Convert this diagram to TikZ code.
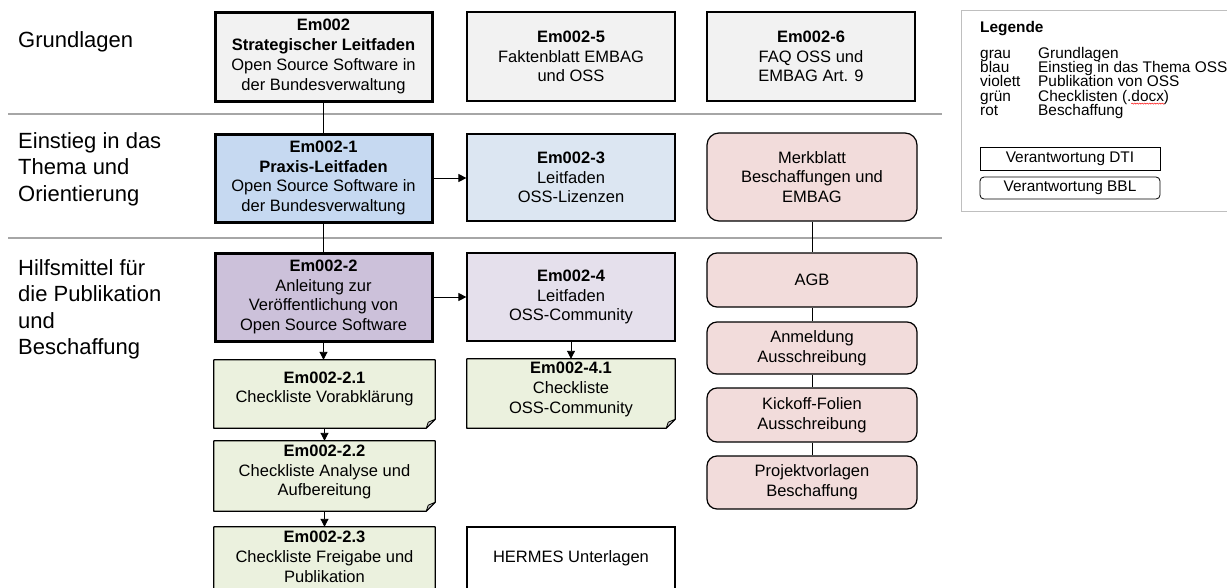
\documentclass[tikz,border=0pt]{standalone}
\usepackage{fontspec}
\setmainfont{Liberation Sans}
\usetikzlibrary{arrows.meta,decorations.pathmorphing}
\definecolor{cgrau}{HTML}{F2F2F2}
\definecolor{cblauA}{HTML}{C6D9F1}
\definecolor{cblauB}{HTML}{DCE6F2}
\definecolor{cviolA}{HTML}{CCC1DA}
\definecolor{cviolB}{HTML}{E5E0EC}
\definecolor{cgruen}{HTML}{EBF1DE}
\definecolor{crot}{HTML}{F2DCDB}
\definecolor{cline}{HTML}{A6A6A6}
\definecolor{clegend}{HTML}{BFBFBF}
\definecolor{cfold}{HTML}{BFBFBF}
\newcommand\bxf{\fontsize{16.5}{19.8}\selectfont}
\newcommand\lbf{\fontsize{22}{26.5}\selectfont}
\newcommand\lgf{\fontsize{15.4}{14.2}\selectfont}
\begin{document}
\begin{tikzpicture}[x=1pt,y=-1pt,
  box/.style={draw=black, line width=1.2pt, align=center, inner sep=0pt, font=\bxf, text=black},
  thickbox/.style={box, line width=3pt},
  redbox/.style={box, rounded corners=10pt, fill=crot, minimum width=210pt},
  notebox/.style={inner sep=0pt},
  notetext/.style={align=center, font=\bxf, inner sep=0pt},
  noteshape/.style={fill=cgruen, draw=black, line width=1.2pt, line join=round},
  foldshape/.style={fill=cfold, draw=black, line width=0.8pt, line join=round},
  conn/.style={draw=black, line width=0.9pt},
  arr/.style={conn, -{Triangle[length=8pt,width=8pt]}},
  sepline/.style={draw=cline, line width=1.5pt},
  lbl/.style={anchor=north west, align=left, font=\lbf, inner sep=0pt},
  leg/.style={anchor=base west, font=\lgf, inner sep=0pt},
]
\useasboundingbox (0,0) rectangle (1227,587);
\clip (0,0) rectangle (1227,587);

% section separators
\draw[sepline] (8,114) -- (942,114);
\draw[sepline] (8,238) -- (942,238);

% section labels
\node[lbl] (l1) at (18,31) {Grundlagen};
\node[lbl] (l2) at (18,132) {Einstieg in das\\Thema und\\Orientierung};
\node[lbl] (l3) at (18,259) {Hilfsmittel für\\die Publikation\\und\\Beschaffung};

% row 1
\node[thickbox, fill=cgrau, minimum width=217pt, minimum height=89pt] (em002) at (323.5,56.5)
  {\textbf{Em002}\\\textbf{Strategischer Leitfaden}\\Open Source Software in\\der Bundesverwaltung};
\node[box, fill=cgrau, minimum width=208pt, minimum height=89pt] (g5) at (571,56.5)
  {\textbf{Em002-5}\\Faktenblatt EMBAG\\und OSS};
\node[box, fill=cgrau, minimum width=208pt, minimum height=89pt] (g6) at (811,56.5)
  {\textbf{Em002-6}\\FAQ OSS und\\EMBAG Art. 9};

% row 2
\node[thickbox, fill=cblauA, minimum width=217pt, minimum height=88pt] (b1) at (323.5,178)
  {\textbf{Em002-1}\\\textbf{Praxis-Leitfaden}\\Open Source Software in\\der Bundesverwaltung};
\node[box, fill=cblauB, minimum width=208pt, minimum height=87pt] (b3) at (571,177.5)
  {\textbf{Em002-3}\\Leitfaden\\OSS-Lizenzen};
\node[redbox, rounded corners=12pt, minimum height=88pt] (mb) at (812,177)
  {Merkblatt\\Beschaffungen und\\EMBAG};

% row 3
\node[thickbox, fill=cviolA, minimum width=217pt, minimum height=88pt] (v2) at (323.5,297)
  {\textbf{Em002-2}\\Anleitung zur\\Veröffentlichung von\\Open Source Software};
\node[box, fill=cviolB, minimum width=208pt, minimum height=88pt] (v4) at (571,297)
  {\textbf{Em002-4}\\Leitfaden\\OSS-Community};

% procurement column
\node[redbox, minimum height=54pt] (agb) at (812,280) {AGB};
\node[redbox, minimum height=52pt] (anm) at (812,348) {Anmeldung\\Ausschreibung};
\node[redbox, minimum height=54pt] (kick) at (812,415) {Kickoff-Folien\\Ausschreibung};
\node[redbox, minimum height=53pt] (proj) at (812,482.5) {Projektvorlagen\\Beschaffung};

% checklist notes
\foreach \nm/\cx/\cy/\w/\h in {n21/324.5/394/221/68, n41/571/393.5/208/69, n22/324.5/476/221/70, n23/324.5/562/221/70}{
  \node[notebox, minimum width=\w pt, minimum height=\h pt] (\nm) at (\cx,\cy) {};
  \path[noteshape] (\nm.north west) -- (\nm.north east) -- ([yshift=9pt]\nm.south east)
     -- ([xshift=-9pt]\nm.south east) -- (\nm.south west) -- cycle;
  \path[foldshape] ([yshift=9pt]\nm.south east) -- ([xshift=-9pt]\nm.south east)
     -- ([xshift=-7pt,yshift=6pt]\nm.south east) -- cycle;
}
\node[notetext] (n21t) at ([yshift=5pt]n21.center) {\textbf{Em002-2.1}\\Checkliste Vorabklärung};
\node[notetext] (n41t) at ([yshift=4pt]n41.center) {\textbf{Em002-4.1}\\Checkliste\\OSS-Community};
\node[notetext] (n22t) at ([yshift=4pt]n22.center) {\textbf{Em002-2.2}\\Checkliste Analyse und\\Aufbereitung};
\node[notetext] (n23t) at ([yshift=5pt]n23.center) {\textbf{Em002-2.3}\\Checkliste Freigabe und\\Publikation};

\node[box, fill=white, minimum width=208pt, minimum height=62pt] (hermes) at (571,558) {HERMES Unterlagen};

% connectors
\draw[conn] (em002) -- (b1);
\draw[conn] (b1) -- (v2);
\draw[arr] (b1.east) -- (b1.east -| b3.west);
\draw[arr] (v2.east) -- (v2.east -| v4.west);
\draw[arr] (v2.south) -- (v2.south |- n21.north);
\draw[arr] (n21.south) -- (n21.south |- n22.north);
\draw[arr] (n22.south) -- (n22.south |- n23.north);
\draw[arr] (v4) -- (n41);
\draw[conn] (mb) -- (agb);
\draw[conn] (agb) -- (anm);
\draw[conn] (anm) -- (kick);
\draw[conn] (kick) -- (proj);

% legend
\node[draw=clegend, line width=1pt, anchor=north west, minimum width=290pt, minimum height=201pt, inner sep=0pt] (legend) at (961,10) {};
\node[leg, font=\lgf\bfseries] (legt) at (980,32.4) {Legende};
\node[leg] (k1) at (980,58.5) {grau};
\node[leg] (k2) at (980,72.7) {blau};
\node[leg] (k3) at (980,86.9) {violett};
\node[leg] (k4) at (980,101.1) {grün};
\node[leg] (k5) at (980,115.3) {rot};
\node[leg] (d1) at (1038,58.5) {Grundlagen};
\node[leg] (d2) at (1038,72.7) {Einstieg in das Thema OSS};
\node[leg] (d3) at (1038,86.9) {Publikation von OSS};
\node[leg] (d4) at (1038,101.1) {Checklisten (.docx)};
\node[leg] (d5) at (1038,115.3) {Beschaffung};
\draw[red, line width=0.5pt, decorate, decoration={snake, amplitude=0.6pt, segment length=2.5pt}]
  ([xshift=-38pt,yshift=-2.5pt]d4.base east) -- ([xshift=-5pt,yshift=-2.5pt]d4.base east);
\node[draw=black, line width=0.8pt, minimum width=180pt, minimum height=23pt, inner sep=0pt, font=\lgf] (dti) at (1070,158.5) {Verantwortung DTI};
\node[draw=black, line width=0.8pt, rounded corners=4pt, minimum width=180pt, minimum height=22pt, inner sep=0pt, font=\lgf] (bbl) at (1070,188) {Verantwortung BBL};
\end{tikzpicture}
\end{document}
